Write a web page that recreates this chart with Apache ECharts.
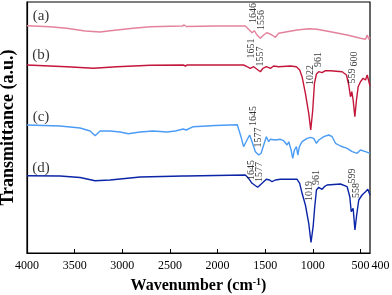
<!DOCTYPE html>
<html><head><meta charset="utf-8">
<script src="https://cdn.jsdelivr.net/npm/echarts@6/dist/echarts.min.js"></script>
<style>html,body{margin:0;padding:0;background:#fff}#c{width:392px;height:295px}</style>
</head><body><div id="c"></div>
<script>
// x-axis ticks and labels (wavenumber, cm-1)
const xTicks = [4000, 3500, 3000, 2500, 2000, 1500, 1000, 500];
const xLabels = [4000, 3500, 3000, 2500, 2000, 1500, 1000, 500, 400];

// (a)
const wnA = [4000,3758,3583,3390,3233,3128,2886,2707,2371,2350,2329,2024,1709,1674,1638,1614,1586,1551,1516,1481,1428,1393,1359,1270,1165,1043,955,815,640,500,447,429,413,400];
const tA  = [227.3,226.3,224.7,222,221,222.3,224.7,226.3,227,228,226.5,227,227,223.7,220.3,222.3,218,214.7,218,220.3,218,215.7,219.7,221.3,223,224.3,223.7,221.3,218,214.7,213.7,218,213.7,215.7];
// (b)
const wnB = [4000,3583,3303,3057,2707,2360,2339,2318,1727,1691,1656,1621,1586,1551,1523,1488,1446,1411,1359,1236,1173,1138,1113,1078,1043,1022,1001,983,962,938,903,868,815,692,647,623,605,591,577,559,542,524,500,472,447,429,412,400];
const tB  = [188,186.3,184.7,186.3,187.7,188,187,188,188,186.3,184.7,186.3,183.7,181.3,184.7,186.3,184.7,187,186.3,187,186.3,183,176.3,159.7,139.7,123,143,169.7,179,181.3,180.3,182.3,182.3,181.3,178,168,156.3,161.3,153,136.3,153,166.3,171.3,174.7,173,178,176.3,167];
// (c)
const wnC = [4000,3653,3443,3338,3285,3233,3128,3022,2938,2812,2676,2529,2444,2360,2329,2255,2024,1793,1779,1754,1727,1691,1663,1638,1603,1568,1543,1516,1488,1463,1446,1393,1341,1306,1270,1253,1228,1211,1193,1172,1158,1141,1113,1060,1026,991,962,938,885,833,797,762,710,640,587,570,535,500,447,400];
const tC  = [128,127,125,122,117.3,122,122,121,119.3,121,122,121,122,124,123,126.3,127.5,128.3,126.3,116.3,106.3,113,118,111.3,101.3,98,99.7,108,116.3,111.3,113.7,113,113.7,112.3,108,111.3,103,94.7,103,106.3,98,106.3,111.3,114.7,115.7,114.7,109.7,113,116.3,118,116.3,109.7,107,104.7,101.3,102.3,99.7,103,101.3,99.7];
// (d)
const wnD = [4000,3653,3443,3285,3128,2812,2360,2345,2329,1709,1674,1638,1579,1533,1488,1453,1428,1393,1341,1165,1138,1113,1078,1043,1019,997,980,962,938,903,879,851,710,640,612,597,587,577,558,542,518,483,447,423,400];
const tD  = [77.3,77,75.5,72.3,73,76,77,75.5,77,78,74.7,69.7,65.7,69.7,73.7,73,71.3,73,73.7,73.7,69.7,59.7,48,29.7,10.7,26.3,46.3,63,65.7,63.7,66.3,68,69,66.3,56.3,41.3,43,44.7,23,36.3,53,58,61.3,63.7,58];

// sample names and peak annotations
const sampleNames = ['(a)', '(b)', '(c)', '(d)'];
const sampleNameAt = [[3853, 236.7], [3853, 197.5], [3853, 136], [3853, 85]];
const peaksA = ['1646', '1556'];
const peaksAAt = [[1619, 240], [1535, 233]];
const peaksB = ['1651', '1557', '1022', '961', '559', '600'];
const peaksBAt = [[1640, 204.5], [1551, 196.5], [1030, 178], [947, 193.5], [589, 177], [568, 194]];
const peaksC = ['1645', '1577'];
const peaksCAt = [[1619, 137], [1567, 115.5]];
const peaksD = ['1645', '1577', '1019', '961', '599', '558'];
const peaksDAt = [[1640, 83], [1561, 81], [1032, 62], [962, 75.5], [589, 77], [547, 62.5]];

const colors = ['#e3829c', '#c4163a', '#4b9cf5', '#0b25a6'];
const F = '"Liberation Serif","Times New Roman",serif';

function pairs(w, t) { return w.map((x, i) => [x, t[i]]); }
function lineSeries(w, t, color) {
  return { type: 'line', data: pairs(w, t), symbol: 'none', showSymbol: false,
    lineStyle: { color: color, width: 1.4 }, silent: true, animation: false, z: 2 };
}
function textSeries(names, at, size, rot) {
  return { type: 'scatter', symbolSize: 0, silent: true, animation: false, z: 3,
    data: names.map((n, i) => ({ value: at[i], name: n })),
    label: { show: true, position: 'inside', rotate: rot, formatter: '{b}', color: '#000',
      fontSize: size, fontFamily: F } };
}

const chart = echarts.init(document.getElementById('c'), null, { renderer: 'canvas' });
chart.setOption({
  animation: false,
  backgroundColor: '#fff',
  grid: { left: 27, right: 22, top: 2, bottom: 42, show: true, borderColor: '#000', borderWidth: 1.2,
    containLabel: false, outerBoundsMode: 'none' },
  xAxis: {
    type: 'value', inverse: true, min: 400, max: 4000,
    axisLine: { show: true, lineStyle: { color: '#000', width: 1.2 } },
    axisTick: { show: true, inside: true, length: 4, customValues: xTicks, lineStyle: { color: '#000', width: 1 } },
    axisLabel: { customValues: xLabels, color: '#000', fontSize: 12, fontFamily: F, margin: 7,
      formatter: v => v === 400 ? '{r|400}' : String(v),
      rich: { r: { padding: [0, 0, 0, 21], fontSize: 12, fontFamily: F, color: '#000' } } },
    splitLine: { show: false },
    name: 'Wavenumber (cm{s|-1})', nameLocation: 'middle', nameGap: 24,
    nameTextStyle: { fontFamily: F, fontWeight: 'bold', fontSize: 16, color: '#000',
      rich: { s: { fontFamily: F, fontWeight: 'bold', fontSize: 10, color: '#000', padding: [0, 0, 8, 0] } } }
  },
  yAxis: {
    type: 'value', min: 0, max: 251,
    axisLine: { show: true, lineStyle: { color: '#000', width: 1.2 } },
    axisTick: { show: false }, axisLabel: { show: false }, splitLine: { show: false },
    name: 'Transmittance (a.u.)', nameLocation: 'middle', nameGap: 10, nameRotate: 90,
    nameTextStyle: { fontFamily: F, fontWeight: 'bold', fontSize: 18, color: '#000' }
  },
  series: [
    lineSeries(wnA, tA, colors[0]),
    lineSeries(wnB, tB, colors[1]),
    lineSeries(wnC, tC, colors[2]),
    lineSeries(wnD, tD, colors[3]),
    textSeries(sampleNames, sampleNameAt, 15, 0),
    textSeries(peaksA, peaksAAt, 10, 90),
    textSeries(peaksB, peaksBAt, 10, 90),
    textSeries(peaksC, peaksCAt, 10, 90),
    textSeries(peaksD, peaksDAt, 10, 90)
  ]
});
</script></body></html>
